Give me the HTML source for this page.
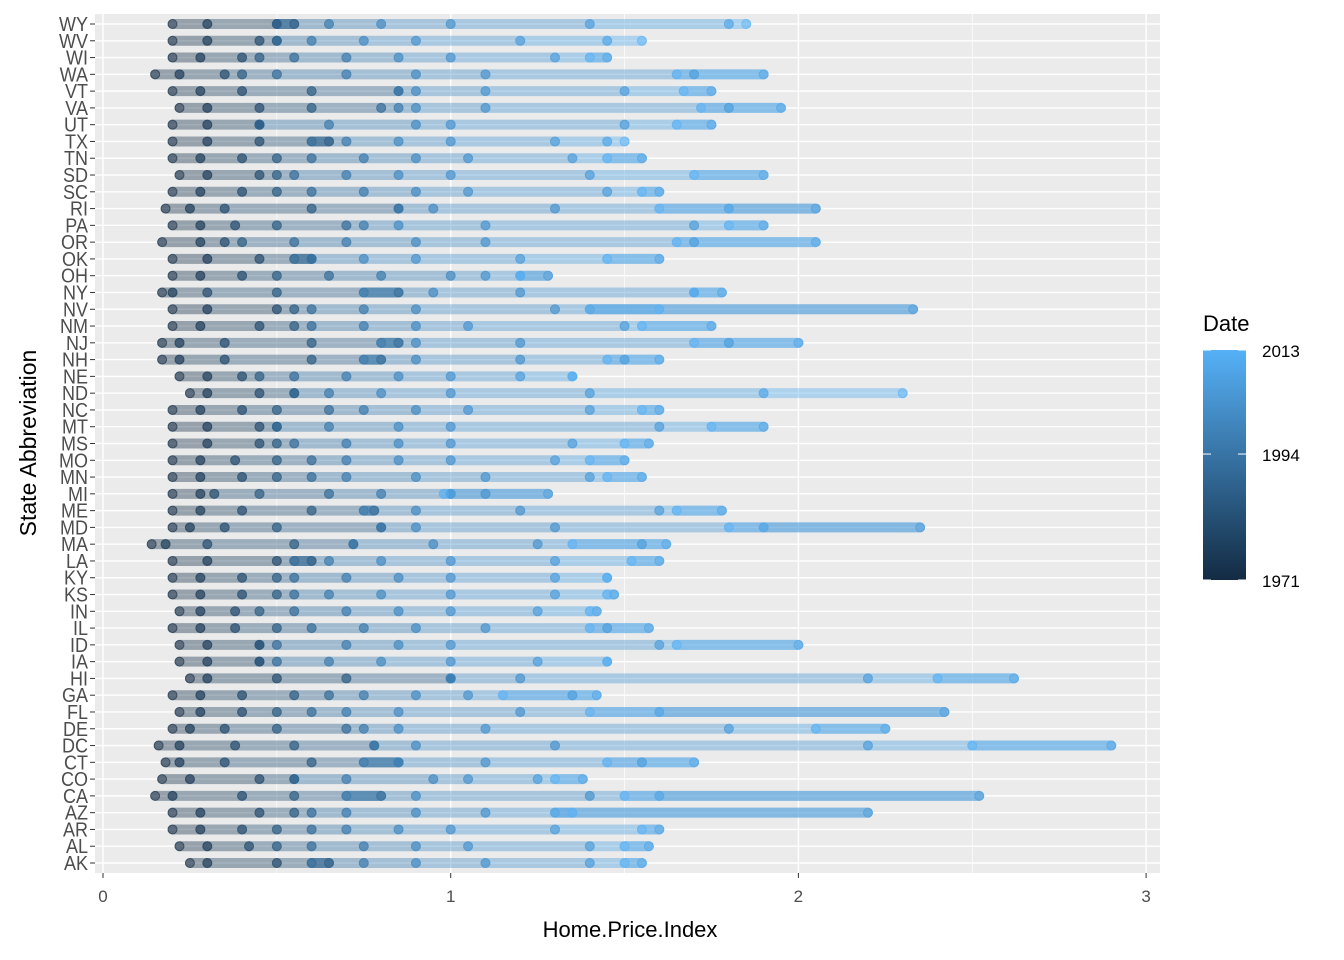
<!DOCTYPE html>
<html><head><meta charset="utf-8">
<style>
body{margin:0;background:#fff;}
svg{display:block;font-family:"Liberation Sans",sans-serif;}
</style></head>
<body>
<svg id="chart" width="1344" height="960"></svg>
<script>
const states = ["WY","WV","WI","WA","VT","VA","UT","TX","TN","SD","SC","RI","PA","OR","OK","OH","NY","NV","NM","NJ","NH","NE","ND","NC","MT","MS","MO","MN","MI","ME","MD","MA","LA","KY","KS","IN","IL","ID","IA","HI","GA","FL","DE","DC","CT","CO","CA","AZ","AR","AL","AK"];
const years = [1971,1975,1980,1985,1990,1995,2000,2003,2006,2009,2013];
const hpi = {
WY:[.2,.3,.5,.55,.5,.65,.8,1.0,1.4,1.8,1.85],
WV:[.2,.3,.45,.5,.5,.6,.75,.9,1.2,1.45,1.55],
WI:[.2,.28,.4,.45,.55,.7,.85,1.0,1.3,1.45,1.4],
WA:[.15,.22,.35,.4,.5,.7,.9,1.1,1.7,1.9,1.65],
VT:[.2,.28,.4,.6,.85,.85,.9,1.1,1.5,1.75,1.67],
VA:[.22,.3,.45,.6,.8,.85,.9,1.1,1.8,1.95,1.72],
UT:[.2,.3,.45,.45,.45,.65,.9,1.0,1.5,1.75,1.65],
TX:[.2,.3,.45,.65,.6,.7,.85,1.0,1.3,1.45,1.5],
TN:[.2,.28,.4,.5,.6,.75,.9,1.05,1.35,1.55,1.45],
SD:[.22,.3,.45,.5,.55,.7,.85,1.0,1.4,1.9,1.7],
SC:[.2,.28,.4,.5,.6,.75,.9,1.05,1.45,1.6,1.55],
RI:[.18,.25,.35,.6,.85,.85,.95,1.3,2.05,1.8,1.6],
PA:[.2,.28,.38,.5,.7,.75,.85,1.1,1.7,1.9,1.8],
OR:[.17,.28,.35,.4,.55,.7,.9,1.1,1.7,2.05,1.65],
OK:[.2,.3,.45,.6,.55,.6,.75,.9,1.2,1.6,1.45],
OH:[.2,.28,.4,.5,.65,.8,1.0,1.1,1.28,1.2,1.2],
NY:[.17,.2,.3,.5,.85,.75,.95,1.2,1.7,1.78,1.7],
NV:[.2,.3,.5,.55,.6,.75,.9,1.3,2.33,1.4,1.6],
NM:[.2,.28,.45,.55,.6,.75,.9,1.05,1.5,1.75,1.55],
NJ:[.17,.22,.35,.6,.85,.8,.9,1.2,1.8,2.0,1.7],
NH:[.17,.22,.35,.6,.8,.75,.9,1.2,1.5,1.6,1.45],
NE:[.22,.3,.4,.45,.55,.7,.85,1.0,1.2,1.35,1.35],
ND:[.25,.3,.45,.55,.55,.65,.8,1.0,1.4,1.9,2.3],
NC:[.2,.28,.4,.5,.65,.75,.9,1.05,1.4,1.6,1.55],
MT:[.2,.3,.45,.5,.5,.65,.85,1.0,1.6,1.9,1.75],
MS:[.2,.3,.45,.5,.55,.7,.85,1.0,1.35,1.57,1.5],
MO:[.2,.28,.38,.5,.6,.7,.85,1.0,1.3,1.5,1.4],
MN:[.2,.28,.4,.5,.6,.7,.9,1.1,1.4,1.55,1.45],
MI:[.2,.28,.32,.45,.65,.8,1.0,1.1,1.28,1.0,.98],
ME:[.2,.28,.4,.6,.78,.75,.9,1.2,1.6,1.78,1.65],
MD:[.2,.25,.35,.5,.8,.8,.9,1.3,2.35,1.9,1.8],
MA:[.14,.18,.3,.55,.72,.72,.95,1.25,1.55,1.62,1.35],
LA:[.2,.3,.5,.6,.55,.65,.8,1.0,1.3,1.6,1.52],
KY:[.2,.28,.4,.5,.55,.7,.85,1.0,1.3,1.45,1.45],
KS:[.2,.28,.4,.5,.55,.65,.8,1.0,1.3,1.47,1.45],
IN:[.22,.28,.38,.45,.55,.7,.85,1.0,1.25,1.42,1.4],
IL:[.2,.28,.38,.5,.6,.75,.9,1.1,1.45,1.57,1.4],
ID:[.22,.3,.45,.45,.5,.7,.85,1.0,1.6,2.0,1.65],
IA:[.22,.3,.45,.45,.5,.65,.8,1.0,1.25,1.45,1.45],
HI:[.25,.3,.5,.7,1.0,1.0,1.0,1.2,2.2,2.62,2.4],
GA:[.2,.28,.4,.55,.65,.75,.9,1.05,1.35,1.42,1.15],
FL:[.22,.28,.4,.5,.6,.7,.85,1.2,2.42,1.6,1.4],
DE:[.2,.25,.35,.5,.7,.75,.85,1.1,1.8,2.25,2.05],
DC:[.16,.22,.38,.55,.78,.78,.9,1.3,2.2,2.9,2.5],
CT:[.18,.22,.35,.6,.85,.75,.85,1.1,1.55,1.7,1.45],
CO:[.17,.25,.45,.55,.55,.7,.95,1.05,1.25,1.38,1.3],
CA:[.15,.2,.4,.55,.8,.7,.9,1.4,2.52,1.6,1.5],
AZ:[.2,.28,.45,.55,.6,.7,.9,1.1,2.2,1.3,1.35],
AR:[.2,.28,.4,.5,.6,.7,.85,1.0,1.3,1.6,1.55],
AL:[.22,.3,.42,.5,.6,.75,.9,1.05,1.4,1.57,1.5],
AK:[.25,.3,.5,.65,.6,.75,.9,1.1,1.4,1.55,1.5]
};
const xTicks = [0,1,2,3];
const legendTicks = [1971,1994,2013];

const NS="http://www.w3.org/2000/svg";
const svg=document.getElementById('chart');
const P={l:95,r:1160,t:14,b:873};
const X=v=>103+v*347.7;
const Y=i=>24+i*(863-24)/(states.length-1);
function mk(tag,attrs,parent){const e=document.createElementNS(NS,tag);for(const k in attrs)e.setAttribute(k,attrs[k]);(parent||svg).appendChild(e);return e;}
function col(yr){const t=(yr-1971)/(2013-1971);const a=[0x13,0x2B,0x43],b=[0x56,0xB1,0xF7];return 'rgb('+a.map((c,i)=>Math.round(c+(b[i]-c)*t)).join(',')+')';}

const bg=mk('rect',{x:P.l,y:P.t,width:P.r-P.l,height:P.b-P.t,fill:'#EBEBEB'});


[0.5,1.5,2.5].forEach(v=>{mk('line',{x1:X(v),x2:X(v),y1:P.t,y2:P.b,stroke:'#fff','stroke-width':0.7});});
xTicks.forEach(v=>{const g=mk('line',{x1:X(v),x2:X(v),y1:P.t,y2:P.b,stroke:'#fff','stroke-width':1.4});

});
states.forEach((s,i)=>{mk('line',{x1:P.l,x2:P.r,y1:Y(i),y2:Y(i),stroke:'#fff','stroke-width':1.4});});

const marks=mk('g',{});


states.forEach((s,i)=>{
  const v=hpi[s];const y=Y(i);
  const g=mk('g',{},marks);
  
  
  for(let k=0;k<v.length-1;k++){
    const seg=mk('line',{x1:X(v[k]),x2:X(v[k+1]),y1:y,y2:y,stroke:col((years[k]+years[k+1])/2),'stroke-width':10,'stroke-linecap':'round','stroke-opacity':0.4},g);
    
  }
  v.forEach((val,k)=>{
    const c=mk('circle',{cx:X(val),cy:y,r:4.5,fill:col(years[k]),'fill-opacity':0.45,stroke:col(years[k]),'stroke-opacity':0.6,'stroke-width':1},g);
    
  });
});

states.forEach((s,i)=>{
  mk('line',{x1:90,x2:95,y1:Y(i),y2:Y(i),stroke:'#333','stroke-width':1});
  const t=mk('text',{x:88,y:Y(i)+7,'text-anchor':'end','font-size':20,fill:'#4D4D4D',transform:'translate(88,0) scale(0.9,1) translate(-88,0)'});t.textContent=s;
  
  
});
xTicks.forEach(v=>{
  mk('line',{x1:X(v),x2:X(v),y1:873,y2:878,stroke:'#333','stroke-width':1});
  const t=mk('text',{x:X(v),y:902,'text-anchor':'middle','font-size':17,fill:'#4D4D4D'});t.textContent=v;
  
  
});
const xt=mk('text',{x:630,y:937,'text-anchor':'middle','font-size':22,fill:'#000'});xt.textContent='Home.Price.Index';


const yt=mk('text',{x:0,y:0,'text-anchor':'middle','font-size':23,fill:'#000',transform:'translate(36,443) rotate(-90)'});yt.textContent='State Abbreviation';



const lg=mk('g',{});


const lt=mk('text',{x:1203,y:331,'font-size':22,fill:'#000'},lg);lt.textContent='Date';

const defs=mk('defs',{});
const gr=mk('linearGradient',{id:'gr',x1:0,y1:1,x2:0,y2:0},defs);
mk('stop',{offset:0,'stop-color':col(1971)},gr);mk('stop',{offset:1,'stop-color':col(2013)},gr);
const cb=mk('rect',{x:1203,y:350,width:43,height:230,fill:'url(#gr)'},lg);

const LY=yr=>580-(yr-1971)/(2013-1971)*230;
legendTicks.forEach(yr=>{
  const y=LY(yr);
  mk('line',{x1:1203,x2:1211,y1:y,y2:y,stroke:'#fff'},lg);
  mk('line',{x1:1238,x2:1246,y1:y,y2:y,stroke:'#fff'},lg);
  const t=mk('text',{x:1262,y:y+7,'font-size':17,fill:'#000'},lg);t.textContent=yr;
  
});
</script>
</body></html>
